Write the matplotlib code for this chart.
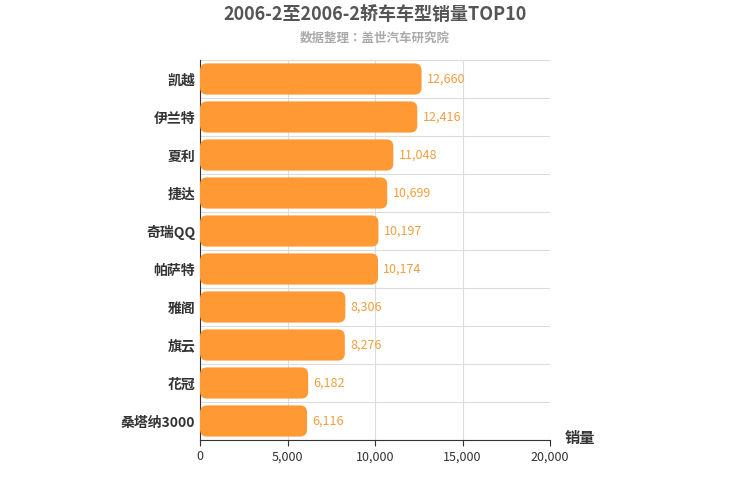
import matplotlib
matplotlib.use("Agg")
import matplotlib.pyplot as plt
from matplotlib.patches import FancyBboxPatch
from matplotlib import font_manager

names = {f.name for f in font_manager.fontManager.ttflist}
cjk = [n for n in ["Noto Sans CJK SC", "Noto Sans CJK JP", "Noto Sans CJK TC", "Noto Sans CJK KR"] if n in names]
if not cjk:
    cjk = [f.name for f in font_manager.fontManager.ttflist if "CJK" in f.name][:1]
plt.rcParams['font.family'] = cjk + ['DejaVu Sans']

categories = ["凯越", "伊兰特", "夏利", "捷达", "奇瑞QQ", "帕萨特", "雅阁", "旗云", "花冠", "桑塔纳3000"]
values = [12660, 12416, 11048, 10699, 10197, 10174, 8306, 8276, 6182, 6116]
xticks = [0, 5000, 10000, 15000, 20000]

fig = plt.figure(figsize=(7.5, 5), dpi=100)
ax = fig.add_axes([200/750, 60/500, 350/750, 380/500])
ax.set_xlim(0, 20000)
ax.set_ylim(len(categories) - 0.5, -0.5)
color = '#ff9933'
bars = ax.barh(range(len(categories)), values, height=0.82, color=color)
xpp = 20000 / 350
ypp = len(categories) / 380
for b in bars:
    x, y, w, h = b.get_x(), b.get_y(), b.get_width(), b.get_height()
    b.set_visible(False)
    p = FancyBboxPatch((x, y), w, h, boxstyle=f"round,pad=0,rounding_size={7*xpp}",
                       mutation_aspect=ypp / xpp, facecolor=color, edgecolor='none', zorder=3)
    ax.add_patch(p)
for i, v in enumerate(values):
    ax.text(v + 300, i, f"{v:,}", va='center', ha='left', color='#f0a040', fontsize=9, zorder=4)

ax.set_yticks(range(len(categories)))
ax.set_yticklabels(categories, fontsize=10, color='#333333', fontweight='bold')
ax.set_xticks(xticks)
ax.set_xticklabels([f"{t:,}" for t in xticks], fontsize=9, color='#333333')
ax.set_yticks([i + 0.5 for i in range(-1, len(categories))], minor=True)
ax.grid(True, axis='x', color='#dddddd', zorder=0)
ax.grid(True, axis='y', which='minor', color='#dddddd', zorder=0)
ax.tick_params(axis='y', which='both', length=0)
ax.tick_params(axis='x', length=4, color='#333333')
for s in ['top', 'right']:
    ax.spines[s].set_visible(False)
ax.spines['bottom'].set_color('#333333')
ax.spines['left'].set_color('#333333')
ax.set_axisbelow(True)

fig.text(375/750, 1 - 14/500, "2006-2至2006-2轿车车型销量TOP10", ha='center', va='center',
         fontsize=13, fontweight='bold', color='#555555')
fig.text(375/750, 1 - 38/500, "数据整理：盖世汽车研究院", ha='center', va='center',
         fontsize=9, color='#aaaaaa', fontweight='bold')
fig.text(580/750, 1 - 438/500, "销量", ha='center', va='center', fontsize=11, color='#333333', fontweight='bold')

fig.savefig("out.png", dpi=100)
